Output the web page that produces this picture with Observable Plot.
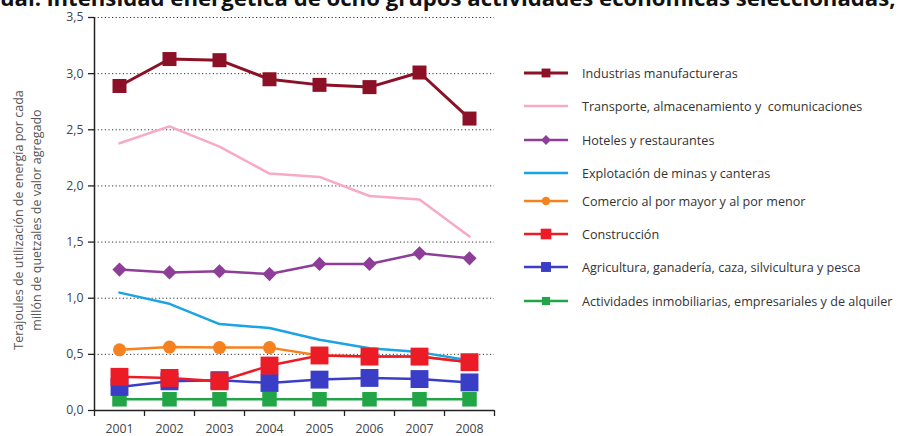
<!DOCTYPE html>
<html>
<head>
<meta charset="utf-8">
<script src="https://cdn.jsdelivr.net/npm/d3@7"></script>
<script src="https://cdn.jsdelivr.net/npm/@observablehq/plot@0.6"></script>
<style>
  html, body { margin: 0; padding: 0; background: #fff; }
  body { width: 899px; height: 436px; overflow: hidden; position: relative; font-family: "Open Sans", sans-serif; }
  #title { position: absolute; left: 0px; top: -15px; font-weight: bold; font-size: 21px; line-height: 24px; color: #111; white-space: pre; }
  #chart { position: absolute; left: 0; top: 0; }
  #legend { position: absolute; left: 0; top: 0; }
  .row { position: absolute; left: 523px; display: flex; align-items: center; height: 20px; }
  .row span { font-size: 12.6px; color: #333; white-space: pre; margin-left: 13px; }
</style>
</head>
<body>
<div id="title">ual: intensidad energética de ocho grupos actividades económicas seleccionadas,</div>
<div id="chart"></div>
<div id="legend"></div>
<script>
const years = [2001, 2002, 2003, 2004, 2005, 2006, 2007, 2008];
const yTicks = [0, 0.5, 1, 1.5, 2, 2.5, 3, 3.5];

const seriesNames = [
  "Industrias manufactureras",
  "Transporte, almacenamiento y  comunicaciones",
  "Hoteles y restaurantes",
  "Explotación de minas y canteras",
  "Comercio al por mayor y al por menor",
  "Construcción",
  "Agricultura, ganadería, caza, silvicultura y pesca",
  "Actividades inmobiliarias, empresariales y de alquiler"
];
const industrias   = [2.89, 3.13, 3.12, 2.95, 2.90, 2.88, 3.01, 2.60];
const transporte   = [2.38, 2.53, 2.35, 2.11, 2.08, 1.91, 1.88, 1.55];
const hoteles      = [1.255, 1.23, 1.24, 1.215, 1.305, 1.305, 1.40, 1.355];
const minas        = [1.05, 0.95, 0.77, 0.735, 0.63, 0.555, 0.52, 0.445];
const comercio     = [0.54, 0.565, 0.56, 0.56, 0.49, 0.48, 0.48, 0.43];
const construccion = [0.30, 0.29, 0.26, 0.40, 0.49, 0.48, 0.48, 0.43];
const agricultura  = [0.21, 0.26, 0.27, 0.245, 0.275, 0.29, 0.28, 0.25];
const inmobiliarias= [0.10, 0.10, 0.10, 0.10, 0.10, 0.10, 0.10, 0.10];

const yLabel = "Terajoules de utilización de energía por cada\nmillón de quetzales de valor agregado";

const styles = [
  {values: industrias,    color: "#8c1026", symbol: "square",   r: 7.9, sw: 3,   lr: 5},
  {values: transporte,    color: "#f7a9c6", symbol: null,       r: 0,   sw: 2.5, lr: 0},
  {values: hoteles,       color: "#8e3e98", symbol: "diamond2", r: 6.4, sw: 2.5, lr: 4.4},
  {values: minas,         color: "#1ba3e3", symbol: null,       r: 0,   sw: 2.5, lr: 0},
  {values: comercio,      color: "#f6821f", symbol: "circle",   r: 6.5, sw: 2.5, lr: 4.2},
  {values: construccion,  color: "#ec1c26", symbol: "square",   r: 10.1,sw: 2.5, lr: 6},
  {values: agricultura,   color: "#3a3ec6", symbol: "square",   r: 10.1,sw: 2.5, lr: 5.6},
  {values: inmobiliarias, color: "#22a546", symbol: "square",   r: 8.2, sw: 2.5, lr: 4.6}
];

const rows = styles.map((s, i) => s.values.map((v, j) => ({series: seriesNames[i], year: years[j], value: v})));

const order = [7, 6, 3, 4, 5, 2, 1, 0];
const dataMarks = [];
for (const i of order) {
  const s = styles[i];
  dataMarks.push(Plot.line(rows[i], {x: "year", y: "value", stroke: s.color, strokeWidth: s.sw, strokeLinejoin: "round"}));
  if (s.symbol) dataMarks.push(Plot.dot(rows[i], {x: "year", y: "value", symbol: s.symbol, r: s.r, fill: s.color, stroke: "none"}));
}

const boundaries = d3.range(years[0] - 0.5, years[years.length - 1] + 1, 1);
const fmt = d => d.toFixed(1).replace(".", ",");

const chart = Plot.plot({
  width: 510,
  height: 436,
  marginLeft: 94,
  marginRight: 16,
  marginTop: 17,
  marginBottom: 26,
  style: {fontFamily: "Open Sans, sans-serif", background: "transparent", overflow: "visible"},
  x: {type: "linear", domain: [boundaries[0], boundaries[boundaries.length - 1]], axis: null},
  y: {domain: [0, 3.5], axis: null},
  marks: [
    Plot.ruleY(yTicks.slice(1), {stroke: "#333", strokeWidth: 1, strokeDasharray: "1.2,2.4"}),
    Plot.axisY(yTicks, {label: null, tickSize: 6, tickPadding: 5, tickFormat: fmt, fontSize: 12.3, color: "#444", stroke: "#222", strokeWidth: 1.3}),
    Plot.ruleX([boundaries[0]], {y1: 0, y2: 3.5, stroke: "#222", strokeWidth: 1.5}),
    Plot.ruleY([0], {stroke: "#222", strokeWidth: 1.5}),
    Plot.axisX(boundaries, {label: null, tickSize: 6, tickFormat: () => "", stroke: "#222", strokeWidth: 1.3}),
    Plot.axisX(years, {label: null, tickSize: 0, tickPadding: 14, tickFormat: d => String(d), fontSize: 12.3, color: "#444"}),
    Plot.text([yLabel], {frameAnchor: "left", rotate: -90, dx: -68, dy: 6, fontSize: 12.5, fill: "#555", textAnchor: "middle", lineHeight: 1.4}),
    ...dataMarks
  ]
});
document.getElementById("chart").appendChild(chart);

// fit title width to the reference span
const title = document.getElementById("title");
const w = title.getBoundingClientRect().width;
if (w > 0) title.style.fontSize = (21 * 896 / w).toFixed(2) + "px";

// legend
const legendY = [73, 106, 140, 173, 201, 234, 267, 301];
const legend = document.getElementById("legend");
styles.forEach((s, i) => {
  const row = document.createElement("div");
  row.className = "row";
  row.style.top = (legendY[i] - 10) + "px";
  const svg = d3.create("svg").attr("width", 46).attr("height", 20);
  svg.append("line").attr("x1", 1).attr("x2", 45).attr("y1", 10).attr("y2", 10)
     .attr("stroke", s.color).attr("stroke-width", s.sw);
  if (s.symbol) {
    const sym = s.symbol === "square" ? d3.symbolSquare : s.symbol === "diamond2" ? d3.symbolDiamond2 : d3.symbolCircle;
    svg.append("path").attr("transform", "translate(23,10)")
       .attr("d", d3.symbol(sym, Math.PI * s.lr * s.lr)()).attr("fill", s.color);
  }
  row.appendChild(svg.node());
  const t = document.createElement("span");
  t.textContent = seriesNames[i];
  row.appendChild(t);
  legend.appendChild(row);
});
</script>
</body>
</html>
